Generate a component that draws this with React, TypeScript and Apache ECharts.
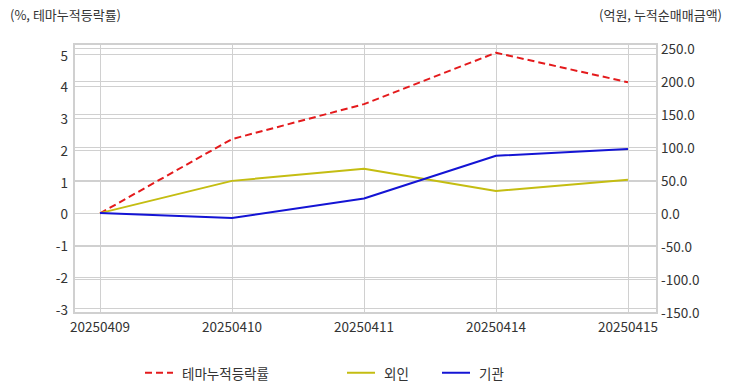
import React, { useEffect, useRef } from "react";
import * as echarts from "echarts";

const dates = ["20250409", "20250410", "20250411", "20250414", "20250415"];
const themeRate = [0, 2.34, 3.44, 5.06, 4.13];
const foreign = [0, 48.9, 67.2, 33.7, 50.5];
const institution = [0, -7.5, 22.1, 87.0, 97.3];
const leftTicks = [-3, -2, -1, 0, 1, 2, 3, 4, 5];
const rightTicks = [-150, -100, -50, 0, 50, 100, 150, 200, 250];

const FONT = "'Noto Sans CJK KR', 'Noto Sans', sans-serif";
const GRID_COLOR = "#d0d0d0";
const LABEL_SIZE = 13.5;

export default function App() {
  const ref = useRef<HTMLDivElement>(null);
  useEffect(() => {
    if (!ref.current) return;
    const chart = echarts.init(ref.current, null, { renderer: "svg" });
    const toPairs = (arr: number[]) => arr.map((v, i) => [i, v]);
    const legendBase = {
      orient: "horizontal",
      top: 361,
      itemWidth: 28,
      itemHeight: 14,
      itemStyle: { opacity: 0 },
      textStyle: { fontFamily: FONT, fontSize: 13.5, color: "#333", padding: [0, 0, 0, 4] },
    };
    chart.setOption({
      animation: false,
      textStyle: { fontFamily: FONT },
      grid: {
        left: 74,
        right: 75,
        top: 44,
        bottom: 79,
        show: true,
        borderColor: GRID_COLOR,
        borderWidth: 2,
      },
      xAxis: {
        type: "value",
        min: -0.197,
        max: 4.22,
        minInterval: 1,
        maxInterval: 1,
        splitNumber: 4,
        axisLine: { show: false },
        axisTick: { show: false },
        splitLine: { show: true, lineStyle: { color: GRID_COLOR, width: 1 } },
        axisLabel: {
          color: "#333",
          fontSize: LABEL_SIZE,
          fontFamily: FONT,
          margin: 6,
          formatter: (v: number) => (Number.isInteger(v) && dates[v] ? dates[v] : ""),
        },
      },
      yAxis: [
        {
          type: "value",
          position: "left",
          min: -3.14,
          max: 5.335,
          minInterval: 1,
          maxInterval: 1,
          splitNumber: 8,
          axisLine: { show: false },
          axisTick: { show: false },
          splitLine: { show: true, lineStyle: { color: GRID_COLOR, width: 1 } },
          axisLabel: {
            color: "#333",
            fontSize: LABEL_SIZE,
            fontFamily: FONT,
            margin: 6,
            formatter: (v: number) => (leftTicks.includes(v) ? String(v) : ""),
          },
        },
        {
          type: "value",
          position: "right",
          min: -151.5,
          max: 256.5,
          minInterval: 50,
          maxInterval: 50,
          splitNumber: 8,
          axisLine: { show: false },
          axisTick: { show: false },
          splitLine: { show: true, lineStyle: { color: GRID_COLOR, width: 1 } },
          axisLabel: {
            color: "#333",
            fontSize: LABEL_SIZE,
            fontFamily: FONT,
            margin: 4,
            formatter: (v: number) => (rightTicks.includes(v) ? v.toFixed(1) : ""),
          },
        },
      ],
      legend: [
        { ...legendBase, left: 139, data: ["테마누적등락률"] },
        { ...legendBase, left: 341, data: ["외인"] },
        { ...legendBase, left: 436, data: ["기관"] },
      ],
      graphic: [
        {
          type: "text",
          left: 10,
          top: 8,
          style: { text: "(%, 테마누적등락률)", fontSize: 13, fill: "#333", fontFamily: FONT },
        },
        {
          type: "text",
          right: 10,
          top: 8,
          style: { text: "(억원, 누적순매매금액)", fontSize: 13, fill: "#333", fontFamily: FONT },
        },
      ],
      series: [
        {
          name: "테마누적등락률",
          type: "line",
          yAxisIndex: 0,
          data: toPairs(themeRate),
          symbol: "none",
          lineStyle: { color: "#e41a1c", width: 2, type: [7, 4] },
          itemStyle: { color: "#e41a1c" },
        },
        {
          name: "외인",
          type: "line",
          yAxisIndex: 1,
          data: toPairs(foreign),
          symbol: "none",
          lineStyle: { color: "#c4bd12", width: 2 },
          itemStyle: { color: "#c4bd12" },
        },
        {
          name: "기관",
          type: "line",
          yAxisIndex: 1,
          data: toPairs(institution),
          symbol: "none",
          lineStyle: { color: "#1414d4", width: 2 },
          itemStyle: { color: "#1414d4" },
        },
      ],
    });
    return () => chart.dispose();
  }, []);
  return <div ref={ref} style={{ width: 732, height: 392, margin: -8 }} />;
}
